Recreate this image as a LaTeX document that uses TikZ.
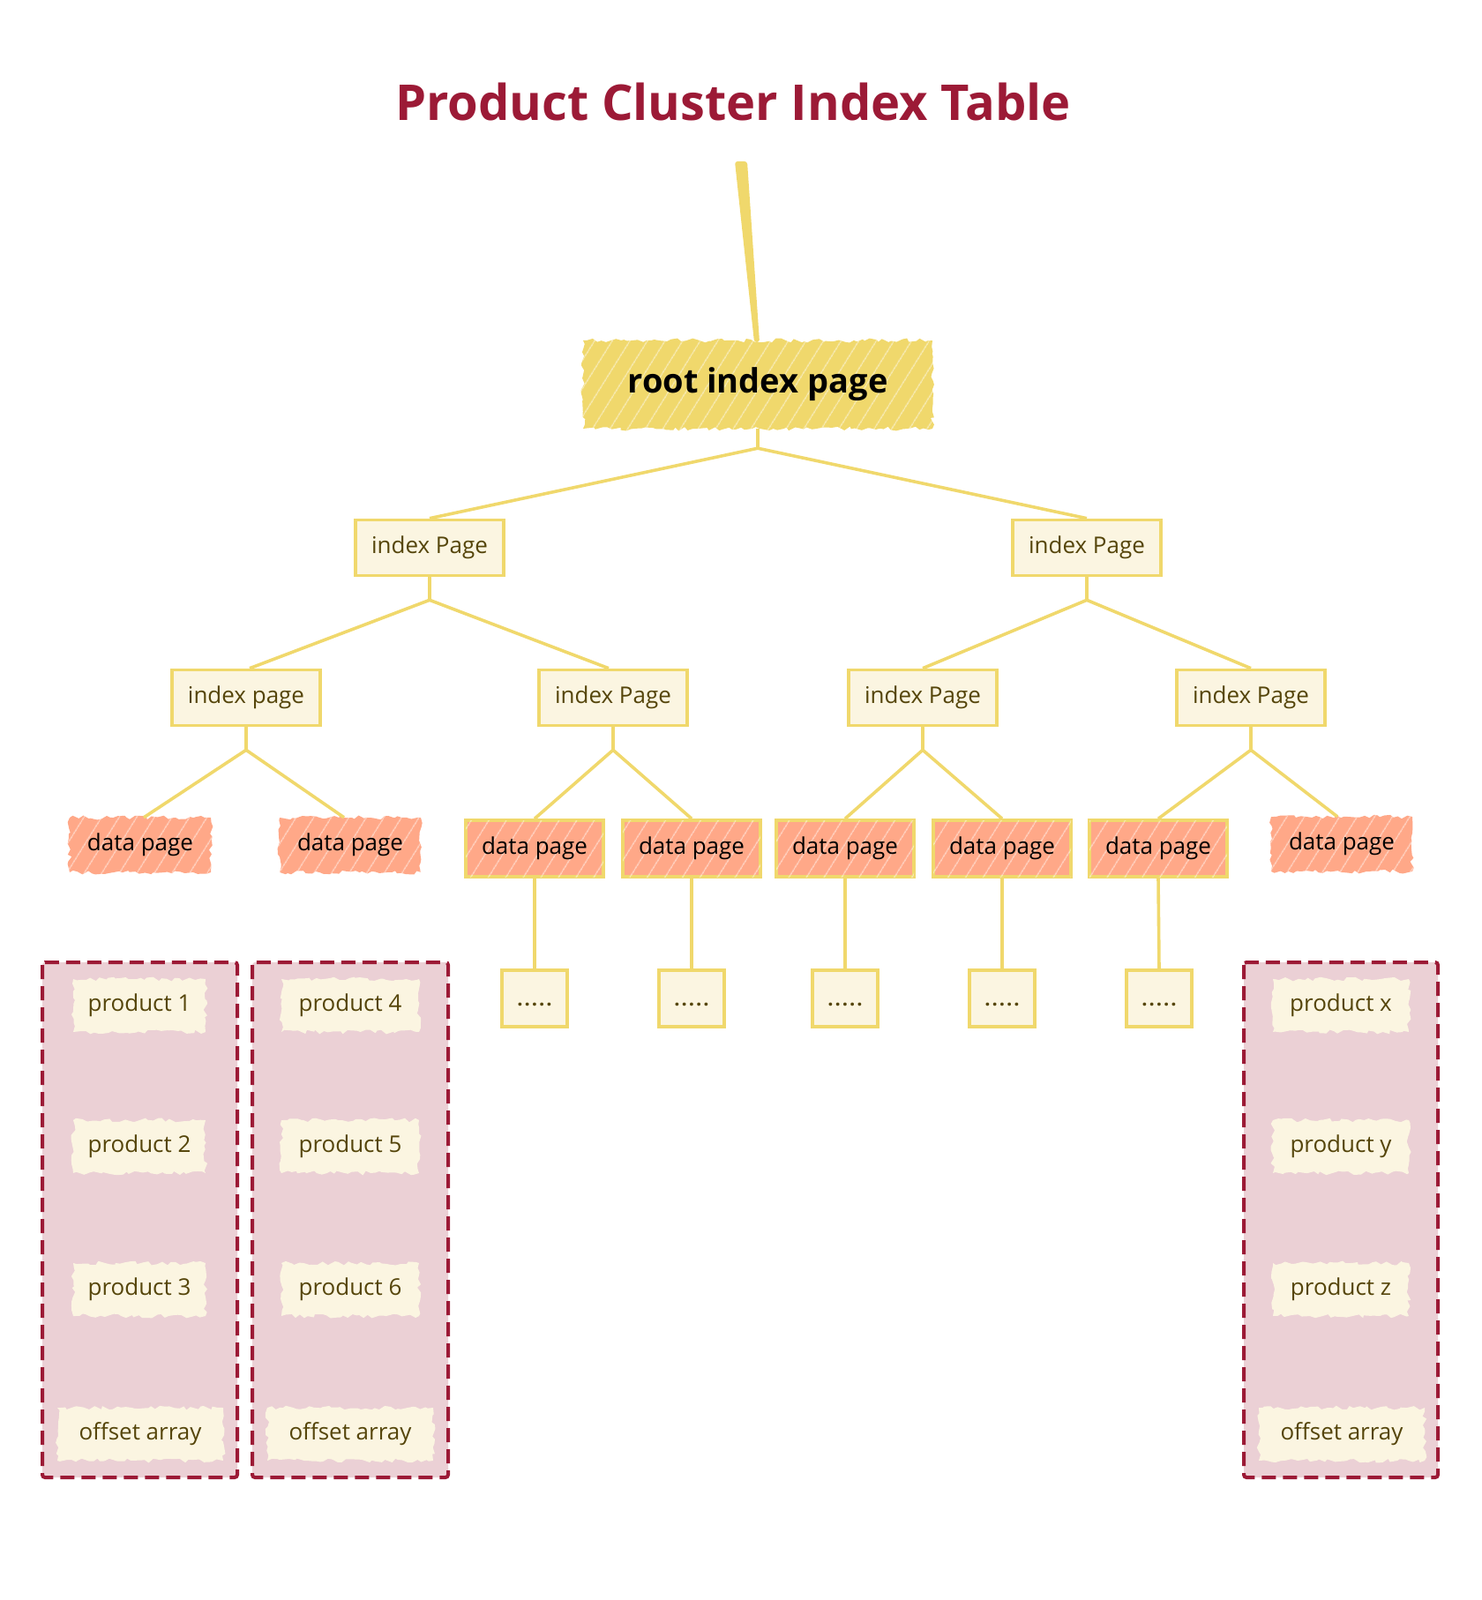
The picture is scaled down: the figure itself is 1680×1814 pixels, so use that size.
\documentclass[tikz,border=0pt]{standalone}
\usepackage{fontspec}
\setmainfont{Open Sans}
\usetikzlibrary{decorations.pathmorphing,calc,patterns.meta}
\definecolor{yel}{HTML}{F0D86C}
\definecolor{cream}{HTML}{FBF5E1}
\definecolor{salmon}{HTML}{FFA888}
\definecolor{pinkbg}{HTML}{EBD0D5}
\definecolor{crimson}{HTML}{9C1A36}
\definecolor{olive}{HTML}{55450A}
\tikzset{
  rough/.style={decorate,decoration={random steps,segment length=5pt,amplitude=2.5pt}},
  hatch/.style={postaction={fill opacity=0.55,pattern={Lines[angle=58,distance=17pt,line width=1.2pt]},pattern color=white}},
  conn/.style={draw=yel,line width=3.6pt},
  lbl/.style={font=\fontsize{26pt}{30pt}\selectfont},
  idxbox/.style={draw=yel,line width=3.6pt,fill=cream,text=olive,minimum width=168pt,minimum height=63pt,inner sep=0pt,lbl},
  databox/.style={draw=yel,line width=3.6pt,fill=salmon,hatch,text=black,minimum width=156pt,minimum height=64pt,inner sep=0pt,lbl},
  dataloose/.style={rough,fill=salmon,hatch,text=black,minimum width=160pt,minimum height=62pt,inner sep=0pt,lbl},
  dotbox/.style={draw=yel,line width=3.6pt,fill=cream,text=olive,minimum width=74pt,minimum height=64pt,inner sep=0pt,text height=20pt,text depth=4pt,font=\fontsize{22pt}{26pt}\selectfont\bfseries},
  prodbox/.style={rough,fill=cream,text=olive,minimum height=60pt,inner sep=0pt,lbl},
  container/.style={draw=crimson,fill=pinkbg,line width=4pt,dash pattern=on 16pt off 8pt,rounded corners=3pt},
}
\newcommand{\fivedots}{.\kern2pt.\kern2pt.\kern2pt.\kern2pt.}
\begin{document}
\begin{tikzpicture}[x=1pt,y=-1pt]
\useasboundingbox (0,0) rectangle (1680,1814);
% title
\node[text=crimson,font=\fontsize{56pt}{64pt}\selectfont\bfseries] (title) at (831,116) {Product Cluster Index Table};
% root
\node[rough,fill=yel,hatch,text=black,minimum width=396pt,minimum height=100pt,inner sep=0pt,font=\fontsize{38pt}{44pt}\selectfont\bfseries] (root) at (859,436) {root index page};
\coordinate (top) at (840,183);
\fill[yel,rounded corners=3pt] ($(top)+(-7,0)$) -- ($(top)+(7,0)$) -- (861,388) -- (855,388) -- cycle;
% level 1
\node[idxbox] (i1) at (487,621) {index Page};
\node[idxbox] (i2) at (1232,621) {index Page};
% level 2
\node[idxbox] (i11) at (279,791) {index page};
\node[idxbox] (i12) at (695,791) {index Page};
\node[idxbox] (i21) at (1046,791) {index Page};
\node[idxbox] (i22) at (1418,791) {index Page};
% data pages
\node[dataloose] (d1) at (159,958) {data page};
\node[dataloose] (d2) at (397,958) {data page};
\node[databox] (d3) at (606,962) {data page};
\node[databox] (d4) at (784,962) {data page};
\node[databox] (d5) at (958,962) {data page};
\node[databox] (d6) at (1136,962) {data page};
\node[databox] (d7) at (1313,962) {data page};
\node[dataloose] (d8) at (1521,957) {data page};
% dots
\foreach \n/\x in {3/606,4/784,5/958,6/1136,7/1314}{
  \node[dotbox] (o\n) at (\x,1132) {\fivedots};
  \draw[conn] (d\n.south) -- (o\n.north);
}
% connectors
\draw[conn] (root.south) -- ++(0,22) coordinate (j0);
\draw[conn] (j0) -- (i1.north);
\draw[conn] (j0) -- (i2.north);
\draw[conn] (i1.south) -- ++(0,26) coordinate (j1);
\draw[conn] (j1) -- ([xshift=4pt]i11.north);
\draw[conn] (j1) -- ([xshift=-5pt]i12.north);
\draw[conn] (i2.south) -- ++(0,26) coordinate (j2);
\draw[conn] (j2) -- (i21.north);
\draw[conn] (j2) -- (i22.north);
\draw[conn] (i11.south) -- ++(0,26) coordinate (j11);
\draw[conn] (j11) -- ([xshift=4pt]d1.north);
\draw[conn] (j11) -- ([xshift=-7pt]d2.north);
\draw[conn] (i12.south) -- ++(0,26) coordinate (j12);
\draw[conn] (j12) -- (d3.north);
\draw[conn] (j12) -- (d4.north);
\draw[conn] (i21.south) -- ++(0,26) coordinate (j21);
\draw[conn] (j21) -- (d5.north);
\draw[conn] (j21) -- (d6.north);
\draw[conn] (i22.south) -- ++(0,26) coordinate (j22);
\draw[conn] (j22) -- (d7.north);
\draw[conn] (j22) -- ([xshift=-5pt]d8.north);
% containers
\draw[container] (48,1091) rectangle (269,1675);
\draw[container] (286,1091) rectangle (508,1675);
\draw[container] (1410,1091) rectangle (1630,1675);
% products
\node[prodbox,minimum width=150pt] (p1) at (158,1140) {product 1};
\node[prodbox,minimum width=150pt] (p2) at (158,1300) {product 2};
\node[prodbox,minimum width=150pt] (p3) at (158,1462) {product 3};
\node[prodbox,minimum width=188pt] (a1) at (159,1626) {offset array};
\node[prodbox,minimum width=156pt] (p4) at (397,1140) {product 4};
\node[prodbox,minimum width=156pt] (p5) at (397,1300) {product 5};
\node[prodbox,minimum width=156pt] (p6) at (397,1462) {product 6};
\node[prodbox,minimum width=188pt] (a2) at (397,1626) {offset array};
\node[prodbox,minimum width=154pt] (px) at (1520,1140) {product x};
\node[prodbox,minimum width=154pt] (py) at (1520,1300) {product y};
\node[prodbox,minimum width=154pt] (pz) at (1520,1462) {product z};
\node[prodbox,minimum width=188pt] (a3) at (1521,1626) {offset array};
\end{tikzpicture}
\end{document}
